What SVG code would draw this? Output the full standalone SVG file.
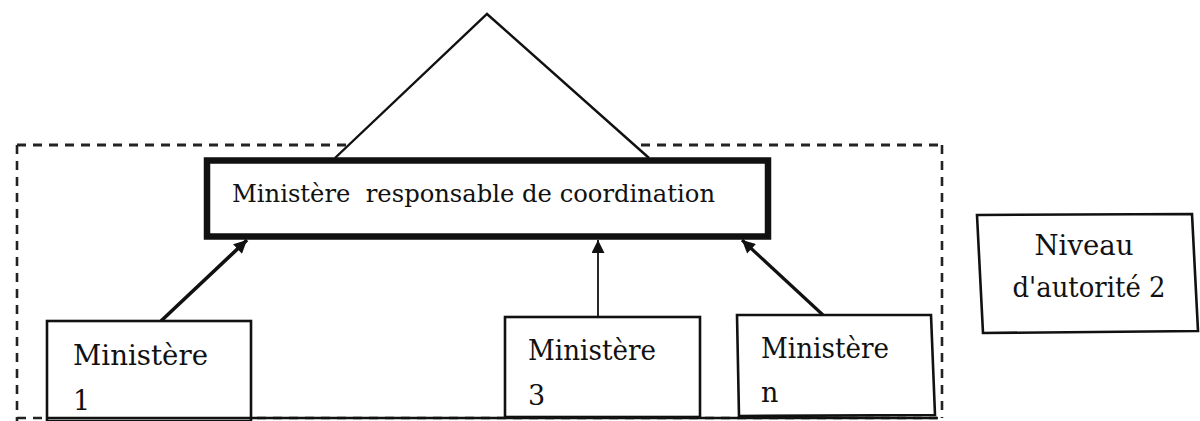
<svg xmlns="http://www.w3.org/2000/svg" width="1200" height="421" viewBox="0 0 1200 421">
  <defs>
    <style>
      .txt { font-family: "DejaVu Serif", "Liberation Serif", serif; fill: #111; }
      .box { fill: #fff; stroke: #111; stroke-width: 2.6; }
      .dash { fill: none; stroke: #222; stroke-dasharray: 9 7; }
      .arr { fill: none; stroke: #111; }
    </style>
    <marker id="ah" viewBox="0 0 10 10" refX="10" refY="5" markerWidth="14" markerHeight="13" markerUnits="userSpaceOnUse" orient="auto">
      <path d="M0,0 L10,5 L0,10 Z" fill="#111"/>
    </marker>
  </defs>
  <rect width="1200" height="421" fill="#fff"/>

  <g id="boundary">
    <line class="dash" x1="17" y1="145" x2="942" y2="145" stroke-width="3"/>
    <line class="dash" x1="17" y1="145" x2="17" y2="421" stroke-width="2.6"/>
    <line class="dash" x1="942" y1="145" x2="942" y2="418" stroke-width="2.6"/>
    <line class="dash" x1="17" y1="418" x2="942" y2="418" stroke-width="2.6"/>
  </g>

  <g id="apex">
    <path d="M335,158 L487,14 L649,158" fill="#fff" stroke="#111" stroke-width="2.4"/>
  </g>

  <g id="coordination">
    <rect x="207" y="160.5" width="561" height="76" fill="#fff" stroke="#111" stroke-width="6.5"/>
    <text class="txt" x="232" y="202" font-size="25" textLength="483" lengthAdjust="spacingAndGlyphs" style="white-space:pre">Ministère  responsable de coordination</text>
  </g>

  <g id="ministere1">
    <rect class="box" x="47" y="321" width="204" height="100"/>
    <text class="txt" x="73" y="365" font-size="27" textLength="135" lengthAdjust="spacingAndGlyphs">Ministère</text>
    <text class="txt" x="73" y="410" font-size="27">1</text>
  </g>

  <g id="ministere3">
    <rect class="box" x="505" y="317" width="195" height="100"/>
    <text class="txt" x="528" y="360" font-size="27" textLength="128" lengthAdjust="spacingAndGlyphs">Ministère</text>
    <text class="txt" x="528" y="405" font-size="27">3</text>
  </g>

  <g id="ministeren">
    <polygon class="box" points="737,315 931,315 935,415 739,416"/>
    <text class="txt" x="761" y="358" font-size="27" textLength="128" lengthAdjust="spacingAndGlyphs">Ministère</text>
    <text class="txt" x="761" y="402" font-size="27">n</text>
  </g>

  <g id="niveau">
    <polygon class="box" points="977,215 1192,214 1198,331 983,333"/>
    <text class="txt" x="1084" y="255" font-size="27" text-anchor="middle" textLength="99" lengthAdjust="spacingAndGlyphs">Niveau</text>
    <text class="txt" x="1089" y="297" font-size="27" text-anchor="middle" textLength="153" lengthAdjust="spacingAndGlyphs">d'autorité 2</text>
  </g>

  <g id="baseline">
    <line x1="47" y1="418" x2="937" y2="418" stroke="#111" stroke-width="2.6"/>
  </g>

  <g id="connectors">
    <line class="arr" x1="161" y1="321" x2="247" y2="240" stroke-width="3.6" marker-end="url(#ah)"/>
    <line class="arr" x1="598" y1="317" x2="598" y2="240" stroke-width="1.8" marker-end="url(#ah)"/>
    <line class="arr" x1="823" y1="315" x2="742" y2="240" stroke-width="3.2" marker-end="url(#ah)"/>
  </g>
</svg>
